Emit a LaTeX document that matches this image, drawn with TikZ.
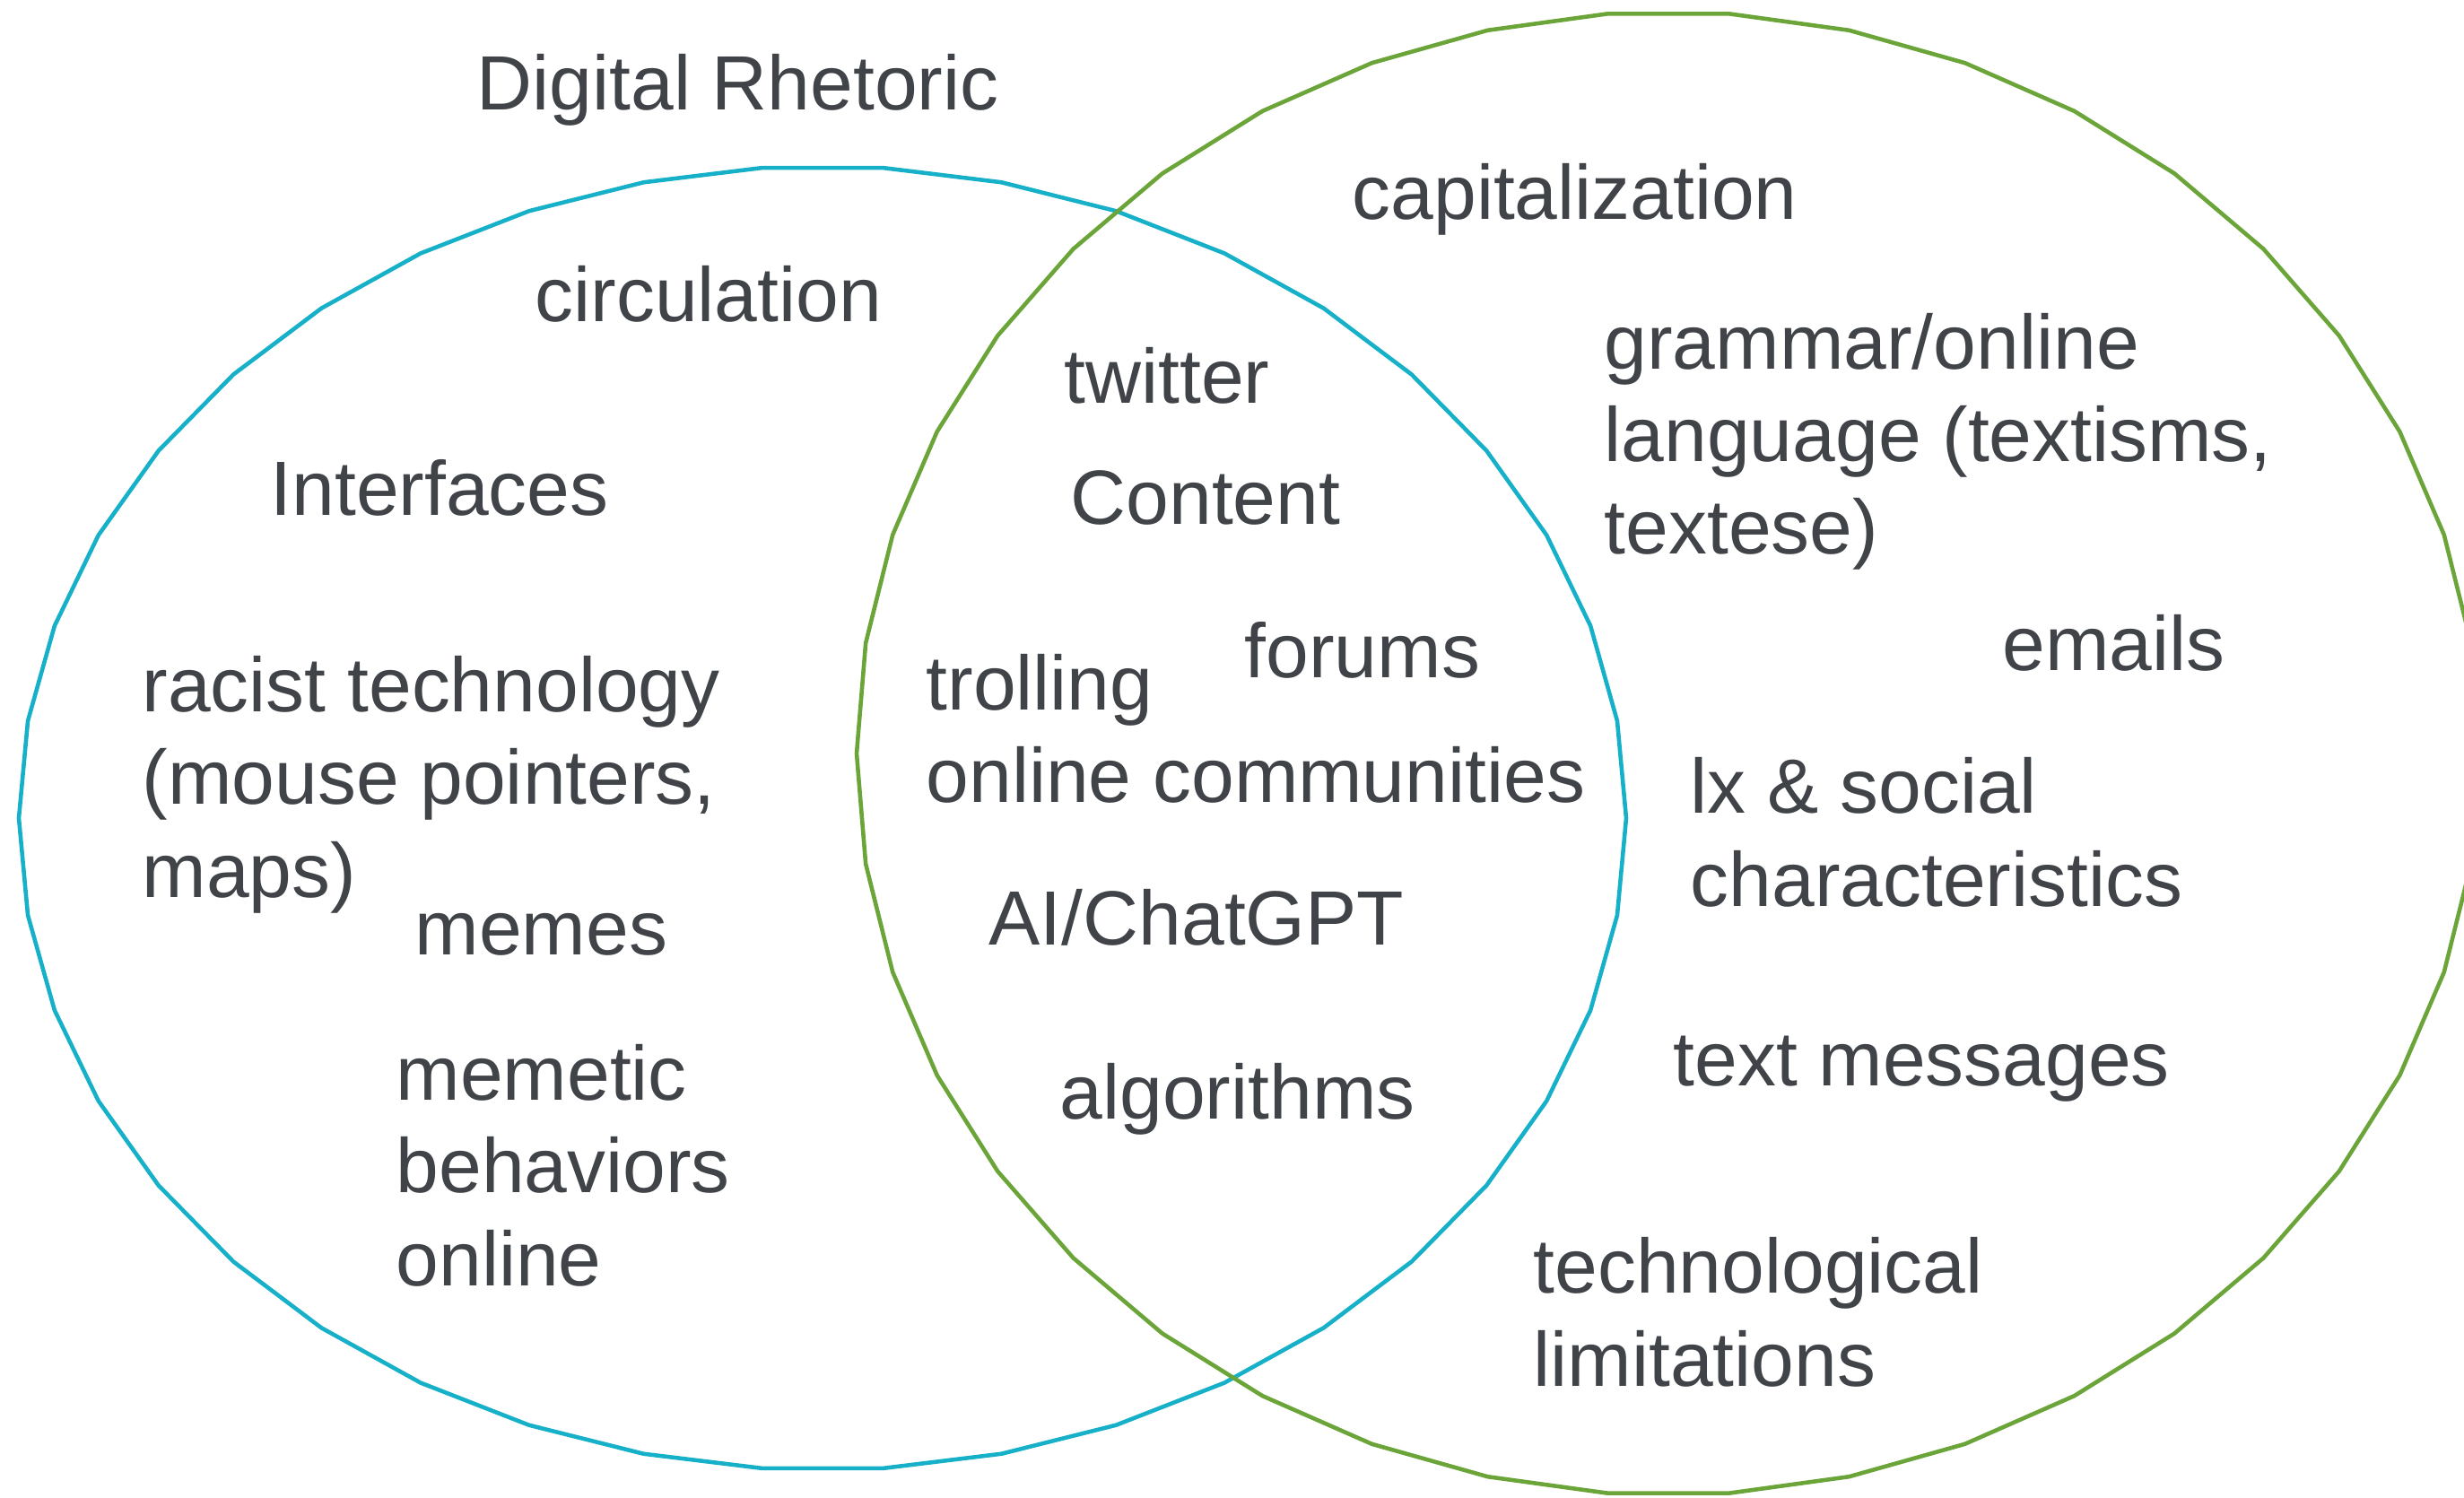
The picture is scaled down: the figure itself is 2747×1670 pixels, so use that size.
\documentclass[tikz,border=0pt]{standalone}
\usepackage{fontspec}
\setmainfont{Liberation Sans}
\usetikzlibrary{positioning}

\definecolor{vennblue}{RGB}{23,176,201}
\definecolor{venngreen}{RGB}{107,165,57}
\definecolor{labelgray}{RGB}{64,67,71}

\tikzset{
  venn/.style={line width=1.3pt, line join=round},
  lbl/.style={anchor=base west, inner sep=0pt, align=left, text=labelgray,
    font=\fontsize{24.4}{29.3}\selectfont},
}

\begin{document}
\begin{tikzpicture}[x=0.01cm, y=-0.01cm]
  \useasboundingbox (0,0) rectangle (2747,1670);

  % Two sets (polygon outlines, as exported)
  \draw[venn, vennblue] plot[samples=43, domain=0:360]
    ({917+896*cos(\x)}, {912+727*sin(\x)}) -- cycle;
  \draw[venn, venngreen] plot[samples=43, domain=0:360]
    ({1860+905*cos(\x)}, {840+827*sin(\x)}) -- cycle;

  % Title
  \node[lbl] (title) at (531,123) {Digital Rhetoric};

  % Left set only (multi-line labels sit on their last line)
  \node[lbl] (circ) at (596,359) {circulation};
  \node[lbl] (iface) at (301,575) {Interfaces};
  \node[lbl] (racist) at (158,1000) {racist technology\\(mouse pointers,\\maps)};
  \node[lbl] (memes) at (462,1064) {memes};
  \node[lbl] (memetic) at (441,1433) {memetic\\behaviors\\online};

  % Overlap
  \node[lbl] (twitter) at (1186,450) {twitter};
  \node[lbl] (content) at (1193,585) {Content};
  \node[lbl] (forums) at (1387,756) {forums};
  \node[lbl] (trolling) at (1032,792) {trolling};
  \node[lbl] (communities) at (1032,895) {online communities};
  \node[lbl] (chatgpt) at (1102,1054) {AI/ChatGPT};
  \node[lbl] (algo) at (1181,1247) {algorithms};

  % Right set only
  \node[lbl] (caps) at (1507,245) {capitalization};
  \node[lbl] (grammar) at (1788,618) {grammar/online\\language (textisms,\\textese)};
  \node[lbl] (emails) at (2232,748) {emails};
  \node[lbl] (social) at (1884,1010) {lx \& social\\characteristics};
  \node[lbl] (texts) at (1865,1210) {text messages};
  \node[lbl] (techlim) at (1709,1545) {technological\\limitations};
\end{tikzpicture}
\end{document}
